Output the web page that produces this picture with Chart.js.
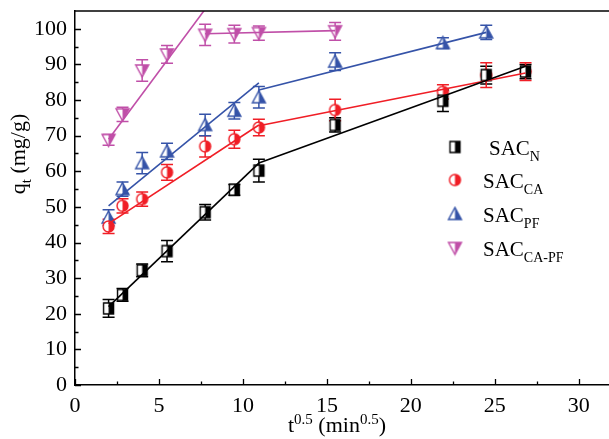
<!DOCTYPE html>
<html>
<head>
<meta charset="utf-8">
<script src="https://cdn.jsdelivr.net/npm/chart.js@4/dist/chart.umd.min.js"></script>
<style>
  html, body { margin: 0; padding: 0; background: #fff; }
  #wrap { width: 609px; height: 439px; }
</style>
</head>
<body>
<div id="wrap"><canvas id="chart" width="609" height="439"></canvas></div>
<script>
// t^0.5 values shared by all series
const tRoot = [2, 2.83, 4, 5.48, 7.75, 9.49, 10.95, 15.49, 21.91, 24.49, 26.83];

// q_t values and error bar sizes
const qN = [21.5, 25.3, 32.2, 37.6, 48.5, 54.8, 60.2, 73.0, 79.8, 87.0, 88.0];
const errN = [2.5, 1.8, 1.8, 3.0, 2.2, 1.5, 3.2, 2.0, 3.0, 2.5, 2.0];
const qCA = [44.5, 50.3, 52.2, 59.7, 67.0, 69.0, 72.3, 77.2, 82.3, 87.0, 88.0];
const errCA = [2.0, 2.0, 2.0, 2.2, 3.0, 2.5, 2.3, 3.0, 2.0, 3.5, 2.5];
const qPF = [47.0, 55.0, 62.3, 65.6, 73.0, 77.0, 80.8, 90.8, 96.0, 99.0];
const errPF = [2.2, 2.0, 3.0, 2.3, 3.0, 2.3, 3.0, 2.5, 1.5, 2.0];
const qCAPF = [68.8, 76.0, 88.3, 92.8, 98.3, 98.5, 98.8, 99.3];
const errCAPF = [1.5, 2.0, 3.0, 2.5, 3.0, 2.5, 2.0, 2.5];

// intra-particle diffusion fit segments (endpoints)
const fitN1 = { x: [2, 10.95], y: [22.0, 62.3] };
const fitN2 = { x: [10.95, 26.83], y: [62.3, 89.5] };
const fitCA1 = { x: [2, 10.95], y: [45.3, 73.0] };
const fitCA2 = { x: [10.95, 26.83], y: [72.8, 87.6] };
const fitPF1 = { x: [2, 10.95], y: [50.3, 84.8] };
const fitPF2 = { x: [10.95, 24.49], y: [82.8, 99.0] };
const fitCAPF1 = { x: [2, 7.75], y: [69.0, 105.5] };
const fitCAPF2 = { x: [7.75, 15.49], y: [98.6, 99.5] };

// axis ticks
const xTicks = [0, 2.5, 5, 7.5, 10, 12.5, 15, 17.5, 20, 22.5, 25, 27.5, 30];
const yTicks = [0, 5, 10, 15, 20, 25, 30, 35, 40, 45, 50, 55, 60, 65, 70, 75, 80, 85, 90, 95, 100];

const serif = '"Liberation Serif", "Times New Roman", serif';
const colors = { N: '#000000', CA: '#f01e26', PF: '#3553a8', CAPF: '#c04fa8' };

Chart.defaults.font.family = serif;

function makeMarker(shape, color) {
    const s = 17;
    const c = document.createElement('canvas');
    c.width = s; c.height = s;
    const g = c.getContext('2d');
    const m = s / 2;
    const path = () => {
        g.beginPath();
        if (shape === 'square') {
            g.rect(m - 5, m - 5.5, 10, 11);
        } else if (shape === 'circle') {
            g.arc(m, m, 5.5, 0, Math.PI * 2);
        } else if (shape === 'up') {
            g.moveTo(m, m - 6.5); g.lineTo(m + 6.5, m + 5.5); g.lineTo(m - 6.5, m + 5.5); g.closePath();
        } else {
            g.moveTo(m, m + 6.5); g.lineTo(m + 6.5, m - 5.5); g.lineTo(m - 6.5, m - 5.5); g.closePath();
        }
    };
    path(); g.fillStyle = '#fff'; g.fill();
    g.save();
    g.beginPath(); g.rect(m, 0, m, s); g.clip();
    path(); g.fillStyle = color; g.fill();
    g.restore();
    path(); g.lineWidth = 1.4; g.strokeStyle = color; g.stroke();
    return c;
}

const markers = {
    N: makeMarker('square', colors.N),
    CA: makeMarker('circle', colors.CA),
    PF: makeMarker('up', colors.PF),
    CAPF: makeMarker('down', colors.CAPF)
};

const pts = (ys) => ys.map((y, i) => ({ x: tRoot[i], y }));
const seg = (f) => f.x.map((x, i) => ({ x, y: f.y[i] }));

function fitLine(f, color) {
    return {
        type: 'line', data: seg(f), borderColor: color, borderWidth: 1.6,
        pointRadius: 0, fill: false, tension: 0, order: 0
    };
}

function pointSet(key, ys, errs) {
    return {
        type: 'scatter', data: pts(ys), errors: errs, errColor: colors[key],
        pointStyle: markers[key], pointRadius: 6, order: 1
    };
}

// error bars, drawn from the scales
const errorBars = {
    id: 'errorBars',
    beforeDatasetsDraw(chart) {
        const { ctx, scales: { x, y } } = chart;
        ctx.save();
        chart.data.datasets.forEach(ds => {
            if (!ds.errors) return;
            ctx.strokeStyle = ds.errColor;
            ctx.lineWidth = 1.5;
            ds.data.forEach((p, i) => {
                const px = x.getPixelForValue(p.x);
                const top = y.getPixelForValue(p.y + ds.errors[i]);
                const bot = y.getPixelForValue(p.y - ds.errors[i]);
                ctx.beginPath();
                ctx.moveTo(px, top); ctx.lineTo(px, bot);
                ctx.moveTo(px - 6, top); ctx.lineTo(px + 6, top);
                ctx.moveTo(px - 6, bot); ctx.lineTo(px + 6, bot);
                ctx.stroke();
            });
        });
        ctx.restore();
    }
};

// text with sub/superscripts
function drawSubText(ctx, x, y, parts) {
    let cx = x;
    parts.forEach(([t, mode, size]) => {
        ctx.font = size + 'px ' + serif;
        const dy = mode === 'sub' ? 6 : (mode === 'sup' ? -8 : 0);
        ctx.fillText(t, cx, y + dy);
        cx += ctx.measureText(t).width;
    });
    return cx - x;
}

function measureParts(ctx, parts) {
    let w = 0;
    parts.forEach(([t, mode, size]) => {
        ctx.font = size + 'px ' + serif;
        w += ctx.measureText(t).width;
    });
    return w;
}

// inward ticks, top frame, axis titles and legend
const decorations = {
    id: 'decorations',
    afterDraw(chart) {
        const { ctx, chartArea: a, scales: { x, y } } = chart;
        ctx.save();
        ctx.strokeStyle = '#000';
        ctx.lineWidth = 1.3;
        ctx.beginPath();
        xTicks.forEach(v => {
            const px = Math.round(x.getPixelForValue(v)) + 0.5;
            const len = v % 5 === 0 ? 6 : 3.5;
            ctx.moveTo(px, a.bottom); ctx.lineTo(px, a.bottom - len);
        });
        yTicks.forEach(v => {
            const py = Math.round(y.getPixelForValue(v)) + 0.5;
            const len = v % 10 === 0 ? 6 : 3.5;
            ctx.moveTo(a.left, py); ctx.lineTo(a.left + len, py);
        });
        ctx.stroke();
        ctx.lineWidth = 1.5;
        ctx.beginPath();
        ctx.moveTo(a.left, a.top); ctx.lineTo(a.right, a.top);
        ctx.stroke();

        ctx.fillStyle = '#000';
        ctx.textBaseline = 'alphabetic';
        ctx.textAlign = 'left';

        const xParts = [['t', 'n', 22], ['0.5', 'sup', 15], [' (min', 'n', 22], ['0.5', 'sup', 15], [')', 'n', 22]];
        const xw = measureParts(ctx, xParts);
        drawSubText(ctx, 337 - xw / 2, 432, xParts);

        const yParts = [['q', 'n', 22], ['t', 'sub', 15], [' (mg/g)', 'n', 22]];
        const yw = measureParts(ctx, yParts);
        ctx.save();
        ctx.translate(25, 154);
        ctx.rotate(-Math.PI / 2);
        drawSubText(ctx, -yw / 2, 0, yParts);
        ctx.restore();

        const legend = [
            ['N', 'N', 147, 489],
            ['CA', 'CA', 180, 483],
            ['PF', 'PF', 214, 483],
            ['CAPF', 'CA-PF', 248, 483]
        ];
        legend.forEach(([key, sub, ly, tx]) => {
            const mk = markers[key];
            ctx.drawImage(mk, 455 - mk.width / 2, ly - mk.height / 2);
            drawSubText(ctx, tx, ly + 8, [['SAC', 'n', 21], [sub, 'sub', 14]]);
        });
        ctx.restore();
    }
};

new Chart(document.getElementById('chart'), {
    data: {
        datasets: [
            fitLine(fitN1, colors.N), fitLine(fitN2, colors.N),
            fitLine(fitCA1, colors.CA), fitLine(fitCA2, colors.CA),
            fitLine(fitPF1, colors.PF), fitLine(fitPF2, colors.PF),
            fitLine(fitCAPF1, colors.CAPF), fitLine(fitCAPF2, colors.CAPF),
            pointSet('N', qN, errN),
            pointSet('CA', qCA, errCA),
            pointSet('PF', qPF, errPF),
            pointSet('CAPF', qCAPF, errCAPF)
        ]
    },
    options: {
        responsive: false,
        animation: false,
        layout: { autoPadding: false, padding: { top: 11, right: 0, left: 0, bottom: 0 } },
        plugins: { legend: { display: false }, tooltip: { enabled: false } },
        scales: {
            x: {
                type: 'linear', min: 0, max: 31.8,
                afterBuildTicks: s => { s.ticks = xTicks.map(v => ({ value: v })); },
                afterFit: s => { s.height = 54; s.paddingLeft = 0; s.paddingRight = 0; },
                grid: { display: false, drawTicks: false },
                border: { display: true, color: '#000', width: 1.5 },
                ticks: {
                    autoSkip: false, maxRotation: 0, padding: 8, color: '#000',
                    font: { family: serif, size: 22 },
                    callback: v => (v % 5 === 0 ? String(v) : '')
                }
            },
            y: {
                type: 'linear', min: 0, max: 105,
                afterBuildTicks: s => { s.ticks = yTicks.map(v => ({ value: v })); },
                afterFit: s => { s.width = 75; s.paddingTop = 0; s.paddingBottom = 0; },
                grid: { display: false, drawTicks: false },
                border: { display: true, color: '#000', width: 1.5 },
                ticks: {
                    autoSkip: false, padding: 8, color: '#000',
                    font: { family: serif, size: 22 },
                    callback: v => (v % 10 === 0 ? String(v) : '')
                }
            }
        }
    },
    plugins: [errorBars, decorations]
});
</script>
</body>
</html>
